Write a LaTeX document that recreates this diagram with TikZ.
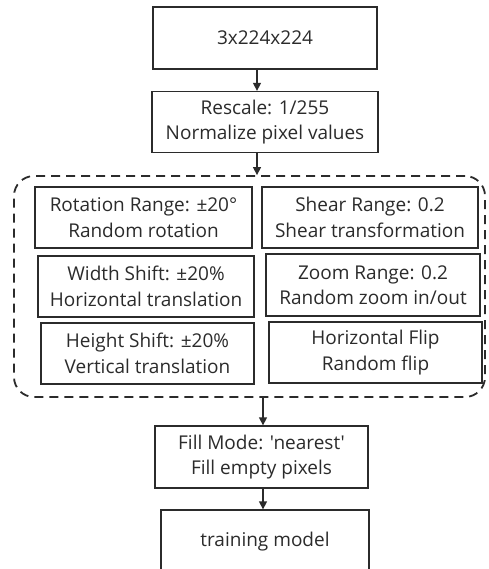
\documentclass[tikz,border=0pt]{standalone}
\usepackage{fontspec}
\setmainfont{Open Sans}[Ligatures=TeXOff]
\usetikzlibrary{arrows.meta}
\definecolor{ink}{HTML}{2B2B2B}
\tikzset{
  box/.style={draw=ink, line width=1.3pt, text=ink, inner sep=0pt, align=center,
              font=\fontsize{19}{25.5}\selectfont},
  arr/.style={draw=ink, line width=1.3pt, -{Triangle[length=8pt,width=8pt]}},
  group/.style={draw=ink, line width=1.8pt, dash pattern=on 9pt off 6pt, rounded corners=20pt}
}
\begin{document}
\begin{tikzpicture}[x=1pt,y=-1pt]
\useasboundingbox[fill=white] (0,0) rectangle (488,569);
\node[box, minimum width=224pt, minimum height=62pt] (b1) at (265,38) {3x224x224};
\node[box, minimum width=226pt, minimum height=61pt] (b2) at (265,122) {Rescale: 1/255\\Normalize pixel values};
\node[group, minimum width=471pt, minimum height=221pt] (aug) at (249.5,286.5) {};
\node[box, minimum width=217pt, minimum height=61pt] (r1l) at (143.5,217.5) {Rotation Range: ±20°\\Random rotation};
\node[box, minimum width=216pt, minimum height=61pt] (r1r) at (370,217.5) {Shear Range: 0.2\\Shear transformation};
\node[box, minimum width=216pt, minimum height=61pt] (r2l) at (146,286.5) {Width Shift: ±20\%\\Horizontal translation};
\node[box, minimum width=214pt, minimum height=62pt] (r2r) at (373,285) {Zoom Range: 0.2\\Random zoom in/out};
\node[box, minimum width=213pt, minimum height=61pt] (r3l) at (147.5,353.5) {Height Shift: ±20\%\\Vertical translation};
\node[box, minimum width=213pt, minimum height=61pt] (r3r) at (375.5,352.5) {Horizontal Flip\\Random flip};
\node[box, minimum width=213pt, minimum height=62pt] (fill) at (261.5,457) {Fill Mode: 'nearest'\\Fill empty pixels};
\node[box, minimum width=208pt, minimum height=64pt] (train) at (265,542) {training model};
\draw[arr] ([xshift=-8pt]b1.south) -- ([xshift=-8pt]b2.north);
\draw[arr] ([xshift=-8pt]b2.south) -- ([xshift=-8pt]b2.south |- aug.north);
\draw[arr] ([xshift=1.5pt]fill.north |- aug.south) -- ([xshift=1.5pt]fill.north);
\draw[arr] ([xshift=1.5pt]fill.south) -- ([xshift=1.5pt]fill.south |- train.north);
\end{tikzpicture}
\end{document}
